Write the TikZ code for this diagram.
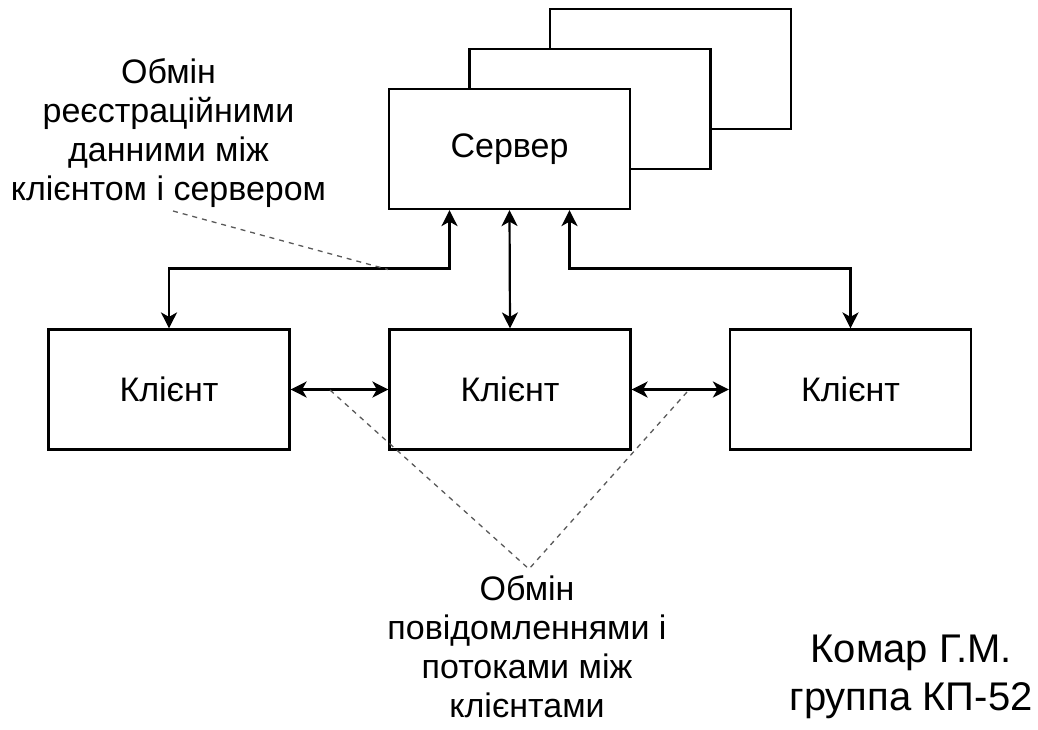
\documentclass[tikz,border=0pt]{standalone}
\usepackage{fontspec}
\setmainfont{Liberation Sans}
\usetikzlibrary{arrows.meta,calc}
\begin{document}
\begin{tikzpicture}[x=1pt,y=-1pt,
  box/.style={draw=black, line width=2.2pt, fill=white, minimum width=241pt,
    minimum height=120pt, inner sep=0pt, font=\fontsize{34}{40}\selectfont},
  link/.style={line width=2.2pt, {Stealth[length=16pt,width=16pt,inset=4.5pt]}-{Stealth[length=16pt,width=16pt,inset=4.5pt]}},
  note/.style={draw=black!65, line width=1.3pt, dash pattern=on 5pt off 5pt},
  caption/.style={align=center, anchor=base, inner sep=0pt, font=\fontsize{34}{38.8}\selectfont},
  author/.style={align=center, anchor=base, inner sep=0pt, font=\fontsize{40}{48}\selectfont}]
\useasboundingbox (0,0) rectangle (1038,729);

% stacked server boxes, back to front
\node[box] (srv3) at (670.5,69) {};
\node[box] (srv2) at (590,109) {};
\node[box] (srv) at (509.5,149) {Сервер};

% clients
\node[box] (cl1) at (169,389.5) {Клієнт};
\node[box] (cl2) at (510,389.5) {Клієнт};
\node[box] (cl3) at (850.5,389.5) {Клієнт};

% server <-> clients
\draw[link] ($(srv.south)+(-60,0)$) |- ($(cl1.north)+(0,-60)$) coordinate (jl) -- (cl1.north);
\draw[link] (srv.south) -- (cl2.north);
\draw[link] ($(srv.south)+(60,0)$) |- ($(cl3.north)+(0,-60)$) coordinate (jr) -- (cl3.north);

% client <-> client
\draw[link] (cl1.east) -- (cl2.west);
\draw[link] (cl2.east) -- (cl3.west);

% captions (base anchor = baseline of the last line)
\node[caption] (reg) at (168.5,200) {Обмін\\реєстраційними\\данними між\\клієнтом і сервером};
\node[caption] (msg) at (527,717) {Обмін\\повідомленнями і\\потоками між\\клієнтами};
\node[author] (who) at (911,710) {Комар Г.М.\\группа КП-52};

% leader lines from captions to connectors
\coordinate (r0) at (173,211);
\coordinate (r1) at (388,269.5);
\coordinate (m0) at (529,569);
\coordinate (m1) at (330,390);
\coordinate (m2) at (687,392);
\draw[note] (r0) -- (r1);
\draw[note] (m1) -- (m0) -- (m2);
\end{tikzpicture}
\end{document}
